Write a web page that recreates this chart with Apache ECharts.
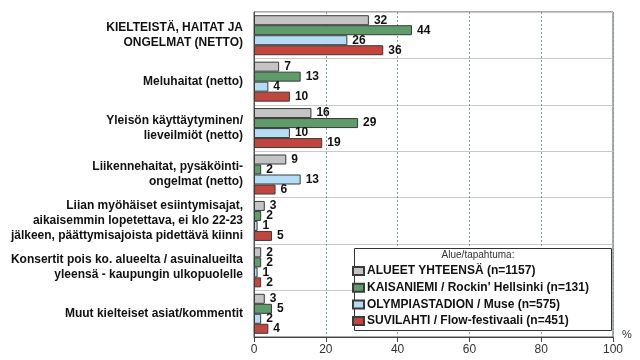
<!DOCTYPE html>
<html>
<head>
<meta charset="utf-8">
<script src="https://cdn.jsdelivr.net/npm/echarts@6/dist/echarts.min.js"></script>
<style>
html,body{margin:0;padding:0;background:#fff;}
#chart{width:640px;height:360px;}
</style>
</head>
<body>
<div id="chart"></div>
<script>
const categories = [
  'KIELTEISTÄ, HAITAT JA\nONGELMAT (NETTO)',
  'Meluhaitat (netto)',
  'Yleisön käyttäytyminen/\nlieveilmiöt (netto)',
  'Liikennehaitat, pysäköinti-\nongelmat (netto)',
  'Liian myöhäiset esiintymisajat,\naikaisemmin lopetettava, ei klo 22-23\njälkeen, päättymisajoista pidettävä kiinni',
  'Konsertit pois ko. alueelta / asuinalueilta\nyleensä - kaupungin ulkopuolelle',
  'Muut kielteiset asiat/kommentit'
];
const seriesNames = [
  'ALUEET YHTEENSÄ (n=1157)',
  "KAISANIEMI / Rockin' Hellsinki (n=131)",
  'OLYMPIASTADION / Muse (n=575)',
  'SUVILAHTI / Flow-festivaali (n=451)'
];
const alueetYhteensa = [32, 7, 16, 9, 3, 2, 3];
const kaisaniemi = [44, 13, 29, 2, 2, 2, 5];
const olympiastadion = [26, 4, 10, 13, 1, 1, 2];
const suvilahti = [36, 10, 19, 6, 5, 2, 4];
const seriesValues = [alueetYhteensa, kaisaniemi, olympiastadion, suvilahti];
const colors = ['#c4c4c4', '#5e9c6a', '#b5dcf5', '#c2463d'];
const legendTitle = 'Alue/tapahtuma:';
const xTicks = [0, 20, 40, 60, 80, 100];

const FONT = '"Liberation Sans", Arial, sans-serif';
const chart = echarts.init(document.getElementById('chart'), null, {renderer: 'canvas'});

const series = seriesNames.map((name, i) => ({
  name: name,
  type: 'bar',
  data: seriesValues[i],
  barWidth: 10,
  barGap: '0%',
  itemStyle: {color: colors[i], borderColor: '#3a3a3a', borderWidth: 1},
  label: {
    show: true, position: 'right', distance: 5,
    color: '#111', fontWeight: 'bold', fontSize: 12, fontFamily: FONT
  },
  z: 3
}));

chart.setOption({
  animation: false,
  backgroundColor: '#fff',
  grid: {
    left: 254, right: 27, top: 12, bottom: 23,
    show: true, borderColor: '#555', borderWidth: 1, backgroundColor: 'transparent'
  },
  xAxis: {
    type: 'value', min: 0, max: 100, interval: 20,
    axisLine: {show: true, lineStyle: {color: '#444', width: 1}},
    axisTick: {show: true, length: 5, lineStyle: {color: '#444'}},
    axisLabel: {
      color: '#333', fontSize: 12, fontFamily: FONT, margin: 7,
      formatter: v => xTicks.includes(v) ? String(v) : ''
    },
    splitLine: {show: true, lineStyle: {color: '#7f9f9f', type: [2, 2], width: 1}}
  },
  yAxis: {
    type: 'category', data: categories, inverse: true,
    axisLine: {show: true, lineStyle: {color: '#555', width: 1}},
    axisTick: {show: false},
    axisLabel: {
      color: '#111', fontSize: 12, fontWeight: 'bold', fontFamily: FONT,
      margin: 11, lineHeight: 15, align: 'right'
    },
    splitLine: {show: true, lineStyle: {color: '#c9c9c9', width: 1}}
  },
  legend: {
    orient: 'vertical', left: 352, top: 264,
    itemWidth: 11, itemHeight: 8, itemGap: 2.7,
    padding: 0, z: 20,
    icon: 'rect',
    textStyle: {color: '#111', fontSize: 12, fontWeight: 'bold', fontFamily: FONT, lineHeight: 14, padding: [0, 0, 0, -2]},
    data: seriesNames
  },
  graphic: [
    {
      type: 'rect', z: 15, zlevel: 0,
      shape: {x: 354.5, y: 248.5, width: 257, height: 82},
      style: {fill: '#fff', stroke: '#333', lineWidth: 1}
    },
    {
      type: 'text', z: 16,
      style: {x: 478, y: 255, text: legendTitle, fill: '#333', font: '10px ' + FONT, textAlign: 'center', textVerticalAlign: 'middle'}
    },
    {
      type: 'text', z: 16,
      style: {x: 627, y: 335, text: '%', fill: '#333', font: '11px ' + FONT, textAlign: 'center', textVerticalAlign: 'middle'}
    }
  ],
  series: series
});
</script>
</body>
</html>
